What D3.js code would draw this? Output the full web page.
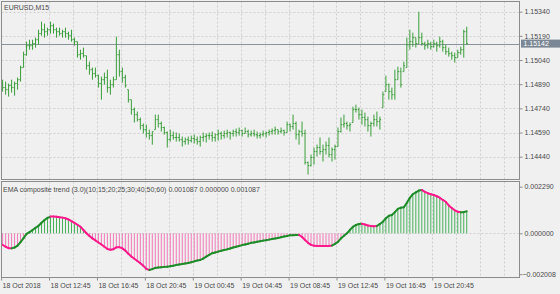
<!DOCTYPE html>
<html><head><meta charset="utf-8">
<script src="https://cdn.jsdelivr.net/npm/d3@7"></script>
<style>html,body{margin:0;padding:0;background:#f0f0f0;} svg{display:block;font-family:"Liberation Sans",Arial,sans-serif;}</style>
</head><body><svg id="c" width="560" height="294"></svg>
<script>
const symbolTitle = "EURUSD,M15";
const indicatorTitle = "EMA composite trend (3.0)(10;15;20;25;30;40;50;60) 0.001087 0.000000 0.001087";

const openP = [1.14887,1.14869,1.14856,1.14881,1.14869,1.14894,1.14918,1.14993,1.15073,1.15129,
1.15129,1.15142,1.15166,1.15204,1.15228,1.15216,1.15228,1.15253,1.15228,1.15216,
1.15204,1.15216,1.15204,1.15191,1.15166,1.15154,1.15073,1.15080,1.15067,1.15005,
1.14980,1.14956,1.14943,1.14894,1.14918,1.14931,1.14869,1.14887,1.14918,1.15073,
1.14968,1.14931,1.14856,1.14794,1.14732,1.14701,1.14670,1.14633,1.14608,1.14584,
1.14571,1.14608,1.14670,1.14646,1.14621,1.14590,1.14546,1.14571,1.14559,1.14559,
1.14546,1.14534,1.14546,1.14540,1.14553,1.14546,1.14534,1.14559,1.14565,1.14571,
1.14571,1.14559,1.14577,1.14584,1.14571,1.14584,1.14590,1.14584,1.14596,1.14590,
1.14602,1.14584,1.14596,1.14577,1.14584,1.14577,1.14571,1.14577,1.14584,1.14590,
1.14596,1.14602,1.14608,1.14596,1.14602,1.14590,1.14639,1.14627,1.14646,1.14577,
1.14596,1.14584,1.14404,1.14385,1.14435,1.14472,1.14497,1.14472,1.14484,1.14509,
1.14453,1.14484,1.14503,1.14596,1.14639,1.14646,1.14633,1.14652,1.14732,1.14732,
1.14701,1.14683,1.14670,1.14633,1.14646,1.14670,1.14658,1.14745,1.14844,1.14887,
1.14844,1.14825,1.14918,1.14968,1.14968,1.14993,1.15135,1.15154,1.15179,1.15142,
1.15179,1.15142,1.15129,1.15142,1.15123,1.15142,1.15129,1.15154,1.15117,1.15092,
1.15080,1.15067,1.15055,1.15086,1.15104,1.15216];

const highP = [1.14918,1.14906,1.14894,1.14918,1.14906,1.14931,1.15005,1.15092,1.15154,1.15166,
1.15166,1.15179,1.15228,1.15278,1.15266,1.15241,1.15278,1.15266,1.15241,1.15241,
1.15228,1.15241,1.15216,1.15228,1.15179,1.15154,1.15104,1.15117,1.15067,1.15030,
1.14993,1.14993,1.14949,1.14937,1.14962,1.14980,1.14918,1.14937,1.15185,1.15104,
1.14993,1.14949,1.14856,1.14794,1.14745,1.14720,1.14683,1.14646,1.14639,1.14608,
1.14596,1.14701,1.14701,1.14658,1.14627,1.14596,1.14608,1.14596,1.14590,1.14584,
1.14565,1.14559,1.14565,1.14571,1.14577,1.14565,1.14571,1.14590,1.14584,1.14590,
1.14596,1.14584,1.14608,1.14596,1.14602,1.14608,1.14596,1.14608,1.14615,1.14621,
1.14608,1.14621,1.14608,1.14602,1.14608,1.14596,1.14590,1.14602,1.14596,1.14608,
1.14615,1.14627,1.14608,1.14621,1.14608,1.14658,1.14646,1.14701,1.14658,1.14608,
1.14658,1.14608,1.14410,1.14453,1.14497,1.14515,1.14559,1.14515,1.14534,1.14559,
1.14497,1.14515,1.14621,1.14683,1.14701,1.14658,1.14652,1.14751,1.14763,1.14745,
1.14732,1.14714,1.14689,1.14658,1.14701,1.14720,1.14689,1.14844,1.14943,1.14894,
1.14869,1.14980,1.14999,1.14993,1.15030,1.15179,1.15228,1.15210,1.15179,1.15340,
1.15210,1.15154,1.15166,1.15154,1.15166,1.15154,1.15185,1.15166,1.15135,1.15117,
1.15092,1.15086,1.15104,1.15123,1.15228,1.15247];

const lowP = [1.14844,1.14825,1.14813,1.14838,1.14819,1.14856,1.14906,1.14993,1.15067,1.15104,
1.15104,1.15117,1.15135,1.15191,1.15179,1.15191,1.15204,1.15204,1.15179,1.15191,
1.15179,1.15179,1.15166,1.15154,1.15129,1.15055,1.15042,1.15055,1.14980,1.14949,
1.14918,1.14931,1.14869,1.14794,1.14887,1.14838,1.14825,1.14869,1.14918,1.14937,
1.14900,1.14869,1.14776,1.14701,1.14652,1.14658,1.14608,1.14584,1.14559,1.14546,
1.14515,1.14608,1.14621,1.14596,1.14577,1.14497,1.14534,1.14546,1.14534,1.14534,
1.14503,1.14515,1.14515,1.14528,1.14522,1.14515,1.14503,1.14534,1.14528,1.14546,
1.14534,1.14534,1.14540,1.14546,1.14553,1.14559,1.14546,1.14565,1.14565,1.14571,
1.14565,1.14584,1.14559,1.14565,1.14565,1.14553,1.14553,1.14565,1.14559,1.14571,
1.14577,1.14577,1.14577,1.14584,1.14571,1.14590,1.14596,1.14608,1.14546,1.14515,
1.14565,1.14391,1.14329,1.14379,1.14391,1.14441,1.14453,1.14410,1.14453,1.14435,
1.14410,1.14422,1.14503,1.14590,1.14621,1.14608,1.14596,1.14652,1.14714,1.14670,
1.14639,1.14627,1.14596,1.14565,1.14627,1.14627,1.14608,1.14745,1.14844,1.14794,
1.14794,1.14794,1.14918,1.14869,1.14968,1.14993,1.15104,1.15123,1.15117,1.15142,
1.15129,1.15104,1.15111,1.15104,1.15117,1.15092,1.15117,1.15092,1.15073,1.15061,
1.15042,1.15024,1.15055,1.15073,1.15055,1.15135];

const closeP = [1.14869,1.14856,1.14881,1.14869,1.14894,1.14918,1.14993,1.15073,1.15129,1.15129,
1.15142,1.15166,1.15204,1.15228,1.15216,1.15228,1.15253,1.15228,1.15216,1.15204,
1.15216,1.15204,1.15191,1.15166,1.15154,1.15073,1.15080,1.15067,1.15005,1.14980,
1.14956,1.14943,1.14894,1.14918,1.14931,1.14869,1.14887,1.14918,1.15073,1.14968,
1.14931,1.14881,1.14794,1.14732,1.14701,1.14670,1.14633,1.14608,1.14584,1.14571,
1.14596,1.14670,1.14646,1.14621,1.14590,1.14546,1.14571,1.14559,1.14559,1.14546,
1.14534,1.14546,1.14540,1.14553,1.14546,1.14534,1.14559,1.14565,1.14571,1.14571,
1.14559,1.14577,1.14584,1.14571,1.14584,1.14590,1.14584,1.14596,1.14590,1.14602,
1.14584,1.14596,1.14577,1.14584,1.14577,1.14571,1.14577,1.14584,1.14590,1.14596,
1.14602,1.14608,1.14596,1.14602,1.14590,1.14639,1.14627,1.14646,1.14577,1.14596,
1.14584,1.14404,1.14385,1.14435,1.14472,1.14497,1.14472,1.14484,1.14509,1.14453,
1.14484,1.14503,1.14596,1.14639,1.14646,1.14633,1.14639,1.14732,1.14732,1.14701,
1.14683,1.14670,1.14633,1.14646,1.14670,1.14658,1.14670,1.14825,1.14887,1.14844,
1.14825,1.14918,1.14968,1.14887,1.15005,1.15135,1.15154,1.15179,1.15142,1.15179,
1.15142,1.15129,1.15142,1.15123,1.15142,1.15129,1.15154,1.15117,1.15092,1.15080,
1.15067,1.15055,1.15086,1.15104,1.15216,1.15142];

const trendValue = [-0.00057,-0.00066,-0.00073,-0.00074,-0.00070,-0.00061,-0.00043,-0.00024,-0.00003,0.00006,
0.00016,0.00027,0.00037,0.00052,0.00065,0.00076,0.00082,0.00083,0.00081,0.00079,
0.00077,0.00074,0.00068,0.00060,0.00051,0.00042,0.00032,0.00016,0.00000,-0.00013,
-0.00025,-0.00035,-0.00045,-0.00055,-0.00066,-0.00077,-0.00081,-0.00078,-0.00069,-0.00068,
-0.00074,-0.00085,-0.00101,-0.00114,-0.00125,-0.00136,-0.00147,-0.00160,-0.00175,-0.00180,
-0.00176,-0.00170,-0.00168,-0.00167,-0.00165,-0.00164,-0.00162,-0.00159,-0.00156,-0.00153,
-0.00151,-0.00148,-0.00146,-0.00142,-0.00138,-0.00134,-0.00131,-0.00124,-0.00115,-0.00106,
-0.00098,-0.00094,-0.00090,-0.00086,-0.00082,-0.00079,-0.00075,-0.00070,-0.00066,-0.00062,
-0.00058,-0.00055,-0.00051,-0.00047,-0.00045,-0.00042,-0.00039,-0.00036,-0.00034,-0.00031,
-0.00028,-0.00026,-0.00023,-0.00019,-0.00016,-0.00013,-0.00010,-0.00009,-0.00008,-0.00008,
-0.00018,-0.00033,-0.00047,-0.00057,-0.00061,-0.00062,-0.00063,-0.00062,-0.00063,-0.00062,
-0.00060,-0.00052,-0.00042,-0.00025,-0.00012,0.00000,0.00017,0.00032,0.00041,0.00046,
0.00047,0.00043,0.00038,0.00036,0.00035,0.00036,0.00046,0.00057,0.00074,0.00086,
0.00090,0.00104,0.00120,0.00126,0.00128,0.00150,0.00174,0.00192,0.00201,0.00210,
0.00213,0.00204,0.00197,0.00192,0.00188,0.00182,0.00175,0.00164,0.00155,0.00137,
0.00124,0.00113,0.00106,0.00103,0.00104,0.001087];

// bar index ranges where the trend line is in its "down" state (magenta)
const downRanges = [[0,3],[17,49],[100,110],[121,125],[141,153]];

const priceTicks = [1.15340,1.15190,1.15040,1.14890,1.14740,1.14590,1.14440];
const bidPrice = 1.15142;
const indicatorTicks = [0.002290,0.000000,-0.002008];
const timeTickBars = [0,16,32,48,64,80,96,112,128,144];
const timeTickLabels = ["18 Oct 2018","18 Oct 12:45","18 Oct 16:45","18 Oct 20:45","19 Oct 00:45","19 Oct 04:45","19 Oct 08:45","19 Oct 12:45","19 Oct 16:45","19 Oct 20:45"];

// ---------- layout ----------
const L = 1.5, R = 519.5;
const top1 = 1.5, bot1 = 179.5, top2 = 181.5, bot2 = 277.5;
const svg = d3.select("#c");
const frameColor = "#8c8c8c", gridColor = "#cfcfcf", textColor = "#4a4a4a";

const xIdx = d3.scaleLinear().domain([0,144]).range([1.1,432.3]);
const xc = i => xIdx(i) + 1.5;
const yP = d3.scaleLinear().domain([1.14440,1.15340]).range([156.7,11.7]);
const yI = d3.scaleLinear().domain([0,0.00229]).range([233.3,186.7]);

const defs = svg.append("defs");
defs.append("clipPath").attr("id","cp1").append("rect").attr("x",L).attr("y",top1).attr("width",R-L).attr("height",bot1-top1);
defs.append("clipPath").attr("id","cp2").append("rect").attr("x",L).attr("y",top2).attr("width",R-L).attr("height",bot2-top2);

// grid
const gridBars = d3.range(8, 176, 8);
const g1 = svg.append("g").attr("clip-path","url(#cp1)");
const g2 = svg.append("g").attr("clip-path","url(#cp2)");
[[g1,top1,bot1],[g2,top2,bot2]].forEach(([g,t,b])=>{
  g.selectAll("line.vg").data(gridBars).join("line").attr("class","vg")
   .attr("x1",d=>Math.round(xIdx(d))+0.5).attr("x2",d=>Math.round(xIdx(d))+0.5)
   .attr("y1",t).attr("y2",b).attr("stroke",gridColor).attr("stroke-dasharray","2,2");
});
g1.selectAll("line.hg").data(priceTicks).join("line").attr("class","hg")
  .attr("x1",L).attr("x2",R).attr("y1",d=>Math.round(yP(d))+0.5).attr("y2",d=>Math.round(yP(d))+0.5)
  .attr("stroke",gridColor).attr("stroke-dasharray","2,2");
g2.append("line").attr("x1",L).attr("x2",R).attr("y1",Math.round(yI(0))+0.5).attr("y2",Math.round(yI(0))+0.5)
  .attr("stroke",gridColor).attr("stroke-dasharray","2,2");

// bid line
g1.append("line").attr("x1",L).attr("x2",R).attr("y1",Math.round(yP(bidPrice))+0.5).attr("y2",Math.round(yP(bidPrice))+0.5)
  .attr("stroke","#8a939c").attr("stroke-width",1);

// OHLC bars
const idx = d3.range(openP.length);
const barColor = "#3a9e3a";
const bars = g1.append("g").attr("stroke",barColor).attr("stroke-width",1);
bars.selectAll("line.hl").data(idx).join("line").attr("class","hl")
  .attr("x1",xc).attr("x2",xc).attr("y1",i=>yP(highP[i])).attr("y2",i=>yP(lowP[i]));
bars.selectAll("line.o").data(idx).join("line").attr("class","o")
  .attr("x1",i=>xc(i)-1.2).attr("x2",xc).attr("y1",i=>yP(openP[i])).attr("y2",i=>yP(openP[i]));
bars.selectAll("line.c").data(idx).join("line").attr("class","c")
  .attr("x1",xc).attr("x2",i=>xc(i)+1.2).attr("y1",i=>yP(closeP[i])).attr("y2",i=>yP(closeP[i]));

// indicator histogram
const isDown = i => downRanges.some(([a,b]) => i>=a && i<=b);
g2.selectAll("line.h").data(idx).join("line").attr("class","h")
  .attr("x1",xc).attr("x2",xc).attr("y1",yI(0)).attr("y2",i=>yI(trendValue[i]))
  .attr("stroke",i=>trendValue[i]>=0 ? "#46b05a" : "#f27ab8").attr("stroke-width",1);

// indicator line
g2.selectAll("line.s").data(idx.slice(1)).join("line").attr("class","s")
  .attr("x1",i=>xc(i-1)).attr("x2",xc).attr("y1",i=>yI(trendValue[i-1])).attr("y2",i=>yI(trendValue[i]))
  .attr("stroke",i=>isDown(i) ? "#ff1a8c" : "#1e8c28").attr("stroke-width",2).attr("stroke-linecap","round");

// frames
svg.append("rect").attr("x",L).attr("y",top1).attr("width",R-L).attr("height",bot1-top1).attr("fill","none").attr("stroke",frameColor);
svg.append("rect").attr("x",L).attr("y",top2).attr("width",R-L).attr("height",bot2-top2).attr("fill","none").attr("stroke",frameColor);

// price axis
const axP = d3.axisRight(yP).tickValues(priceTicks).tickFormat(d3.format(".5f")).tickSize(3).tickPadding(2);
const ga = svg.append("g").attr("transform",`translate(${R},0)`).call(axP);
ga.select(".domain").remove();
ga.selectAll("line").attr("stroke",frameColor);
ga.selectAll("text").attr("fill",textColor).style("font-size","7px").style("font-family","Liberation Sans, Arial, sans-serif");

// bid label
const by = yP(bidPrice);
svg.append("rect").attr("x",R+1.5).attr("y",by-4).attr("width",560-R-1.5).attr("height",8).attr("fill","#7b8794");
svg.append("text").attr("x",R+4).attr("y",by+2.5).attr("fill","#ffffff").style("font-size","7px").text(d3.format(".5f")(bidPrice));

// indicator axis
const axI = d3.axisRight(yI).tickValues(indicatorTicks).tickFormat(d3.format(".6f")).tickSize(3).tickPadding(2);
const gi = svg.append("g").attr("transform",`translate(${R},0)`).call(axI);
gi.select(".domain").remove();
gi.selectAll("line").attr("stroke",frameColor);
gi.selectAll("text").attr("fill",textColor).style("font-size","7px").style("font-family","Liberation Sans, Arial, sans-serif")
  .attr("x",d=>d<0?3:5);

// time axis
const axT = d3.axisBottom(xIdx).tickValues(timeTickBars).tickFormat((d,k)=>timeTickLabels[k]).tickSize(3).tickPadding(3);
const gt = svg.append("g").attr("transform",`translate(0,${bot2})`).call(axT);
gt.select(".domain").remove();
gt.selectAll("line").attr("stroke",frameColor);
gt.selectAll("text").attr("fill",textColor).style("font-size","7px").style("font-family","Liberation Sans, Arial, sans-serif")
  .attr("text-anchor","start").attr("x",1);

// titles
svg.append("text").attr("x",4).attr("y",10).attr("fill",textColor).style("font-size","7px").text(symbolTitle);
svg.append("text").attr("x",3).attr("y",192).attr("fill",textColor).style("font-size","7px").text(indicatorTitle);
</script></body></html>
